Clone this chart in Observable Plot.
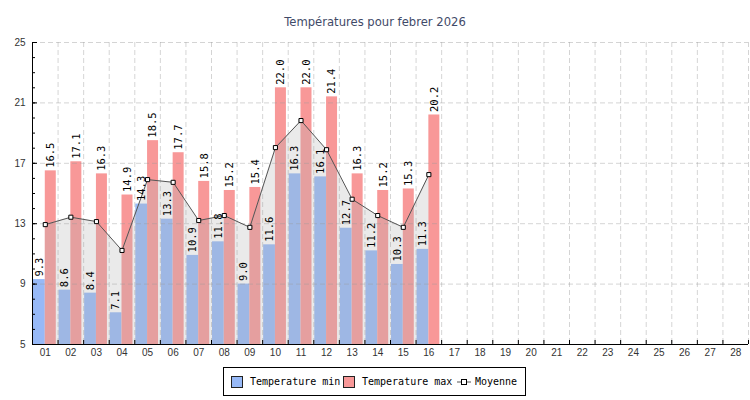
<!DOCTYPE html>
<html>
<head>
<meta charset="utf-8">
<script src="https://cdn.jsdelivr.net/npm/d3@7"></script>
<script src="https://cdn.jsdelivr.net/npm/@observablehq/plot@0.6"></script>
<style>
  body { margin: 0; background: #fff; }
  #wrap { position: relative; width: 750px; height: 400px; overflow: hidden; }
  #title { position: absolute; left: 0; top: 15px; width: 750px; text-align: center;
           font-family: "DejaVu Sans"; font-size: 11.6px; color: #3f4a68; }
  #legend { position: absolute; left: 223px; top: 367px; width: 301px; height: 27px;
            border: 1px solid #000; background: #fff; box-sizing: content-box;
            font-family: "DejaVu Sans Mono"; font-size: 10px; color: #000; }
  #legend .it { position: absolute; top: 0; height: 27px; display: flex; align-items: center; }
  #legend .sw { width: 10px; height: 10px; border: 1px solid #222; }
</style>
</head>
<body>
<div id="wrap">
  <div id="title"></div>
  <div id="chart"></div>
  <div id="legend"></div>
</div>
<script>
const titleText = "Températures pour febrer 2026";
const days = [1,2,3,4,5,6,7,8,9,10,11,12,13,14,15,16];
const tMin = [9.3, 8.6, 8.4, 7.1, 14.3, 13.3, 10.9, 11.8, 9.0, 11.6, 16.3, 16.1, 12.7, 11.2, 10.3, 11.3];
const tMax = [16.5, 17.1, 16.3, 14.9, 18.5, 17.7, 15.8, 15.2, 15.4, 22.0, 22.0, 21.4, 16.3, 15.2, 15.3, 20.2];
const tMean = [12.94, 13.43, 13.14, 11.23, 15.92, 15.74, 13.21, 13.54, 12.76, 18.04, 19.83, 17.9, 14.62, 13.54, 12.76, 16.25];
const allDays = d3.range(1, 29);
const yMajor = [5, 9, 13, 17, 21, 25];
const yMinor = d3.range(5, 26);
const seriesNames = ["Temperature min", "Temperature max", "Moyenne"];

const colMin = "#97b9f7";
const colMax = "#f89898";

const data = days.map((d, i) => ({day: d, min: tMin[i], max: tMax[i], mean: tMean[i]}));
const bounds = allDays.map(d => d + 0.5);

document.getElementById("title").textContent = titleText;

const grid = {stroke: "#999", strokeOpacity: 0.42, strokeDasharray: "5,3", strokeWidth: 1};

const chart = Plot.plot({
  width: 750,
  height: 400,
  marginLeft: 32,
  marginRight: 2,
  marginTop: 42,
  marginBottom: 56,
  style: {fontFamily: "Liberation Sans", fontSize: "10px", background: "transparent"},
  x: {type: "linear", domain: [0.5, 28.5], axis: null, label: null},
  y: {domain: [5, 25], axis: null, label: null},
  marks: [
    Plot.rectY(data, {x1: d => d.day - 0.46, x2: d => d.day, y: "min", fill: colMin, clip: true}),
    Plot.rectY(data, {x1: d => d.day, x2: d => d.day + 0.43, y: "max", fill: colMax, clip: true}),
    Plot.areaY(data, {x: "day", y: "mean", fill: "#b0b0b0", fillOpacity: 0.27, clip: true}),
    Plot.gridY(yMajor.slice(1), grid),
    Plot.gridX(bounds, grid),
    Plot.lineY(data, {x: "day", y: "mean", stroke: "#555", strokeWidth: 1}),
    Plot.dot(data, {x: "day", y: "mean", symbol: "square", r: 2.3, fill: "#fff", stroke: "#000", strokeWidth: 1}),
    Plot.text(data, {x: d => d.day - 0.23, y: "min", text: d => d.min.toFixed(1), rotate: -90,
      textAnchor: "start", lineAnchor: "middle", dy: -3, fontFamily: "DejaVu Sans Mono", fontSize: 10.5, fill: "#000"}),
    Plot.text(data, {x: d => d.day + 0.215, y: "max", text: d => d.max.toFixed(1), rotate: -90,
      textAnchor: "start", lineAnchor: "middle", dy: -3, fontFamily: "DejaVu Sans Mono", fontSize: 10.5, fill: "#000"}),
    Plot.axisY({ticks: yMajor, tickSize: 0, tickPadding: 7, fill: "#333", label: null, tickFormat: d => String(d)}),
    Plot.axisY({ticks: yMinor, tickSize: -3, text: null, label: null, stroke: "#000"}),
    Plot.axisY({ticks: yMajor, tickSize: -5, text: null, label: null, stroke: "#000"}),
    Plot.axisX({ticks: allDays, tickSize: 0, tickPadding: 4, fill: "#333", label: null, tickFormat: d => String(d).padStart(2, "0")}),
    Plot.axisX({ticks: bounds, tickSize: -4, text: null, label: null, stroke: "#000"}),
    Plot.ruleX([0.5], {stroke: "#000"}),
    Plot.ruleY([5], {stroke: "#000"})
  ]
});
document.getElementById("chart").appendChild(chart);

// Legend
const lg = document.getElementById("legend");
function item(left, html) {
  const el = document.createElement("div");
  el.className = "it";
  el.style.left = left + "px";
  el.innerHTML = html;
  lg.appendChild(el);
}
item(7, `<div class="sw" style="background:${colMin}"></div><span style="margin-left:7px">${seriesNames[0]}</span>`);
item(119, `<div class="sw" style="background:${colMax}"></div><span style="margin-left:7px">${seriesNames[1]}</span>`);
item(233, `<svg width="14" height="8"><line x1="0" y1="4" x2="14" y2="4" stroke="#555"/><rect x="4.5" y="1.5" width="5" height="5" fill="#fff" stroke="#000"/></svg><span style="margin-left:4px">${seriesNames[2]}</span>`);
</script>
</body>
</html>
